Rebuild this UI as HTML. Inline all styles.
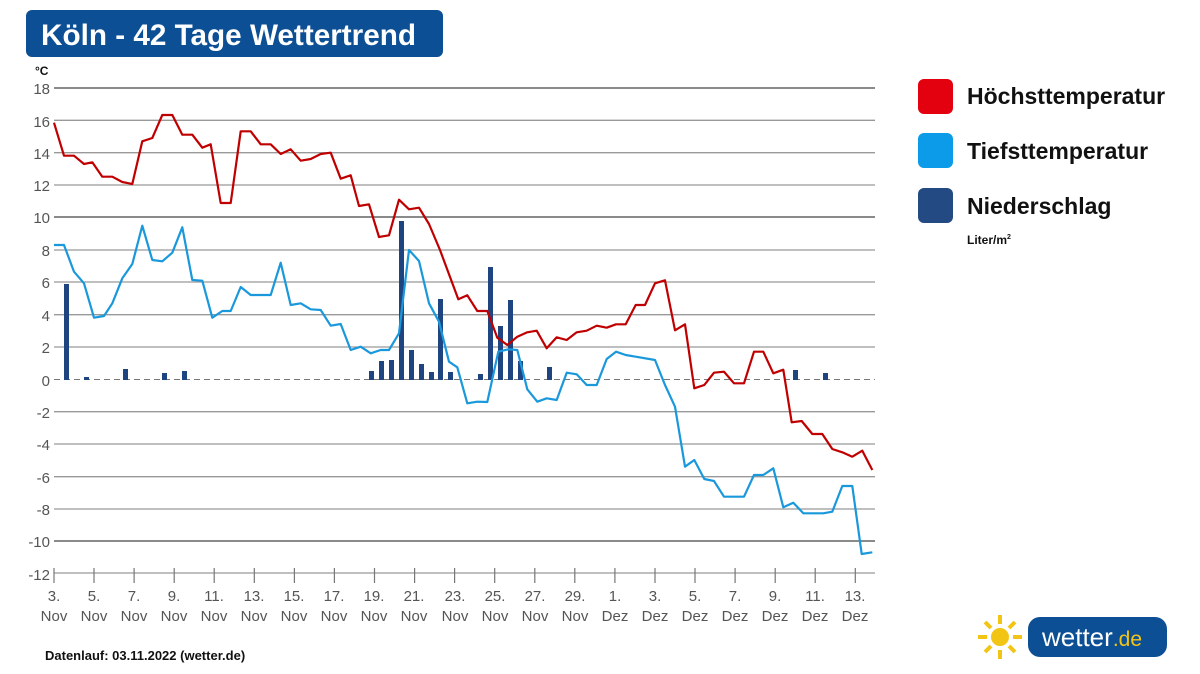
<!DOCTYPE html>
<html><head><meta charset="utf-8"><style>
body{margin:0;background:#fff;}
svg{display:block;font-family:"Liberation Sans",sans-serif;}
</style></head><body>
<svg width="1200" height="674" viewBox="0 0 1200 674">
<rect width="1200" height="674" fill="#fff"/>
<rect x="26" y="10" width="417" height="47" rx="6" fill="#0d4f94"/>
<text x="41" y="45" font-size="29.7" font-weight="bold" fill="#fff">Köln - 42 Tage Wettertrend</text>
<text x="35" y="75" font-size="12" font-weight="bold" fill="#111">°C</text>
<g stroke="#999" stroke-width="1.3">
<line x1="54" x2="875" y1="120.3" y2="120.3"/><line x1="54" x2="875" y1="152.7" y2="152.7"/>
<line x1="54" x2="875" y1="185" y2="185"/><line x1="54" x2="875" y1="250" y2="250"/>
<line x1="54" x2="875" y1="282" y2="282"/><line x1="54" x2="875" y1="314.7" y2="314.7"/>
<line x1="54" x2="875" y1="347" y2="347"/><line x1="54" x2="875" y1="411.7" y2="411.7"/>
<line x1="54" x2="875" y1="444" y2="444"/><line x1="54" x2="875" y1="476.7" y2="476.7"/>
<line x1="54" x2="875" y1="509" y2="509"/><line x1="54" x2="875" y1="573" y2="573"/>
</g>
<g stroke="#444" stroke-width="1.3">
<line x1="54" x2="875" y1="88" y2="88"/><line x1="54" x2="875" y1="217" y2="217"/><line x1="54" x2="875" y1="541" y2="541"/>
</g>
<line x1="54" x2="875" y1="379.5" y2="379.5" stroke="#777" stroke-width="1" stroke-dasharray="6,4"/>
<g font-size="15" fill="#555" text-anchor="end">
<text x="50" y="94">18</text><text x="50" y="127">16</text><text x="50" y="159">14</text><text x="50" y="191">12</text>
<text x="50" y="223">10</text><text x="50" y="256">8</text><text x="50" y="288">6</text><text x="50" y="321">4</text>
<text x="50" y="353">2</text><text x="50" y="386">0</text><text x="50" y="418">-2</text><text x="50" y="450">-4</text>
<text x="50" y="483">-6</text><text x="50" y="515">-8</text><text x="50" y="547">-10</text><text x="50" y="580">-12</text>
</g>
<g stroke="#777" stroke-width="1.2">
<line x1="54" x2="54" y1="568" y2="583"/><line x1="94" x2="94" y1="568" y2="583"/><line x1="134.1" x2="134.1" y1="568" y2="583"/>
<line x1="174.2" x2="174.2" y1="568" y2="583"/><line x1="214.2" x2="214.2" y1="568" y2="583"/><line x1="254.3" x2="254.3" y1="568" y2="583"/>
<line x1="294.4" x2="294.4" y1="568" y2="583"/><line x1="334.4" x2="334.4" y1="568" y2="583"/><line x1="374.5" x2="374.5" y1="568" y2="583"/>
<line x1="414.6" x2="414.6" y1="568" y2="583"/><line x1="454.6" x2="454.6" y1="568" y2="583"/><line x1="494.7" x2="494.7" y1="568" y2="583"/>
<line x1="534.8" x2="534.8" y1="568" y2="583"/><line x1="574.8" x2="574.8" y1="568" y2="583"/><line x1="614.9" x2="614.9" y1="568" y2="583"/>
<line x1="655" x2="655" y1="568" y2="583"/><line x1="695" x2="695" y1="568" y2="583"/><line x1="735.1" x2="735.1" y1="568" y2="583"/>
<line x1="775.2" x2="775.2" y1="568" y2="583"/><line x1="815.2" x2="815.2" y1="568" y2="583"/><line x1="855.3" x2="855.3" y1="568" y2="583"/>
</g>
<g font-size="15" fill="#555" text-anchor="middle">
<text x="54" y="601">3.</text><text x="54" y="621">Nov</text>
<text x="94" y="601">5.</text><text x="94" y="621">Nov</text>
<text x="134" y="601">7.</text><text x="134" y="621">Nov</text>
<text x="174" y="601">9.</text><text x="174" y="621">Nov</text>
<text x="214" y="601">11.</text><text x="214" y="621">Nov</text>
<text x="254" y="601">13.</text><text x="254" y="621">Nov</text>
<text x="294" y="601">15.</text><text x="294" y="621">Nov</text>
<text x="334" y="601">17.</text><text x="334" y="621">Nov</text>
<text x="374" y="601">19.</text><text x="374" y="621">Nov</text>
<text x="414" y="601">21.</text><text x="414" y="621">Nov</text>
<text x="455" y="601">23.</text><text x="455" y="621">Nov</text>
<text x="495" y="601">25.</text><text x="495" y="621">Nov</text>
<text x="535" y="601">27.</text><text x="535" y="621">Nov</text>
<text x="575" y="601">29.</text><text x="575" y="621">Nov</text>
<text x="615" y="601">1.</text><text x="615" y="621">Dez</text>
<text x="655" y="601">3.</text><text x="655" y="621">Dez</text>
<text x="695" y="601">5.</text><text x="695" y="621">Dez</text>
<text x="735" y="601">7.</text><text x="735" y="621">Dez</text>
<text x="775" y="601">9.</text><text x="775" y="621">Dez</text>
<text x="815" y="601">11.</text><text x="815" y="621">Dez</text>
<text x="855" y="601">13.</text><text x="855" y="621">Dez</text>
</g>
<g fill="#1f4580">
<rect x="64" y="284" width="5" height="96"/><rect x="84" y="377" width="5" height="3"/>
<rect x="123" y="369" width="5" height="11"/><rect x="162" y="373" width="5" height="7"/>
<rect x="182" y="371" width="5" height="9"/><rect x="369" y="371" width="5" height="9"/>
<rect x="379" y="361" width="5" height="19"/><rect x="389" y="360" width="5" height="20"/>
<rect x="399" y="221" width="5" height="159"/><rect x="409" y="350" width="5" height="30"/>
<rect x="419" y="364" width="5" height="16"/><rect x="429" y="372" width="5" height="8"/>
<rect x="438" y="299" width="5" height="81"/><rect x="448" y="372" width="5" height="8"/>
<rect x="478" y="374" width="5" height="6"/><rect x="488" y="267" width="5" height="113"/>
<rect x="498" y="326" width="5" height="54"/><rect x="508" y="300" width="5" height="80"/>
<rect x="518" y="361" width="5" height="19"/><rect x="547" y="367" width="5" height="13"/>
<rect x="793" y="370" width="5" height="10"/><rect x="823" y="373" width="5" height="7"/>
</g>
<polyline fill="none" stroke="#c00000" stroke-width="2.2" stroke-linejoin="round" points="54,122.7 64,155.7 74,155.7 84,164 92.3,162.3 102.3,176.7 112.3,176.7 122.3,182 132.3,184 142.3,141.3 152.3,138 162.3,115 172.3,115 182.3,134.7 192.3,134.7 202.3,147.7 210.7,144.3 220.7,203 230.7,203 240.7,131.3 250.7,131.3 260.7,144.3 270.7,144.3 280.7,154 290.7,149.3 300.7,160.7 310.7,159 320.7,154 330.7,152.7 340.7,178.7 350.7,175.3 359,206 369,204.3 379,237 389,235.3 399,199.7 409,209.3 419,207.7 429,224 440,250 458.3,299.3 467.3,295.3 477.3,311 487.3,311 497.3,337.7 507.3,345 517.3,336.7 527.3,332.3 536.7,330.7 546.7,348.3 556.7,337.3 566.7,340 576.7,332.3 586.7,330.7 596.7,325.7 606.7,327.7 616,324.3 625.7,324.3 635.7,305 645,305 655,283.3 665,280.3 675,330.3 685,324.3 694.3,388.3 704.3,385 714,372.7 724,371.7 734,383.3 744,383.3 754,351.7 763.3,351.7 773.3,373.3 783.3,369.7 791.7,422.3 801.7,421 812.3,434 822.3,434 832.3,449 842.3,452.3 852.3,456.7 862.3,450.7 872.3,470"/>
<polyline fill="none" stroke="#1a98dc" stroke-width="2.2" stroke-linejoin="round" points="54,245 64,245 74,271.7 84,283.3 94,317.7 104,316 112.3,303.3 122.3,278.3 132.3,264 142.3,225.7 152.3,260 162.3,261.3 172.3,252.7 182.3,227.3 192.3,280 202.3,280.7 212.3,317.7 222.3,311 230.7,311 240.7,287 250.7,295 260.7,295 270.7,295 280.7,262.7 290.7,305 300.7,303.3 310.7,309.3 320.7,310 330.7,325.7 340.7,324 350.7,350 360.7,346.7 370.7,353.3 380.7,350 389,350 399,333.3 409,250 419,261 429,303.3 439,321.7 449,361.7 457.3,367.3 467.3,403.3 477.3,401.7 487.3,402 498.3,351.7 508.3,349.3 517.3,350 527.3,389.3 537.3,401.7 546.7,398.3 556.7,400 566.7,372.7 576.7,374.3 586.7,385 596.7,385 606.7,359 616,351.7 625.7,355 635.7,356.7 655,360 665,385 675,406.7 685,466.7 694.3,460 704.3,479 714,481 724,496.7 734,496.7 744,496.7 754,475 763.3,475 773.3,468.3 783.3,507.3 793.3,502.7 803.3,513.3 813.3,513.3 823.3,513.3 832.3,511.7 842.3,486 852.3,486 861.7,554 872.3,552.3"/>
<rect x="918" y="79" width="35" height="35" rx="6" fill="#e3000f"/>
<rect x="918" y="133" width="35" height="35" rx="6" fill="#0b9be8"/>
<rect x="918" y="188" width="35" height="35" rx="6" fill="#234a82"/>
<g font-size="23" font-weight="bold" fill="#111">
<text x="967" y="104">Höchsttemperatur</text>
<text x="967" y="159">Tiefsttemperatur</text>
<text x="967" y="214">Niederschlag</text>
</g>
<text x="967" y="244" font-size="12" font-weight="bold" fill="#111">Liter/m<tspan font-size="7" dy="-5">2</tspan></text>
<text x="45" y="660" font-size="13" font-weight="bold" fill="#111">Datenlauf: 03.11.2022 (wetter.de)</text>
<g transform="translate(1000,637)">
<circle r="9" fill="#f2c414"/>
<g stroke="#f2c414" stroke-width="4">
<line x1="0" y1="-13" x2="0" y2="-22"/><line x1="0" y1="13" x2="0" y2="22"/>
<line x1="-13" y1="0" x2="-22" y2="0"/><line x1="13" y1="0" x2="22" y2="0"/>
<line x1="9" y1="-9" x2="15" y2="-15"/><line x1="-9" y1="-9" x2="-15" y2="-15"/>
<line x1="9" y1="9" x2="15" y2="15"/><line x1="-9" y1="9" x2="-15" y2="15"/>
</g></g>
<rect x="1028" y="617" width="139" height="40" rx="12" fill="#0d4f94"/>
<text x="1042" y="646" font-size="26" fill="#fff">wetter<tspan fill="#f2c414" font-size="21">.de</tspan></text>
</svg>
</body></html>
